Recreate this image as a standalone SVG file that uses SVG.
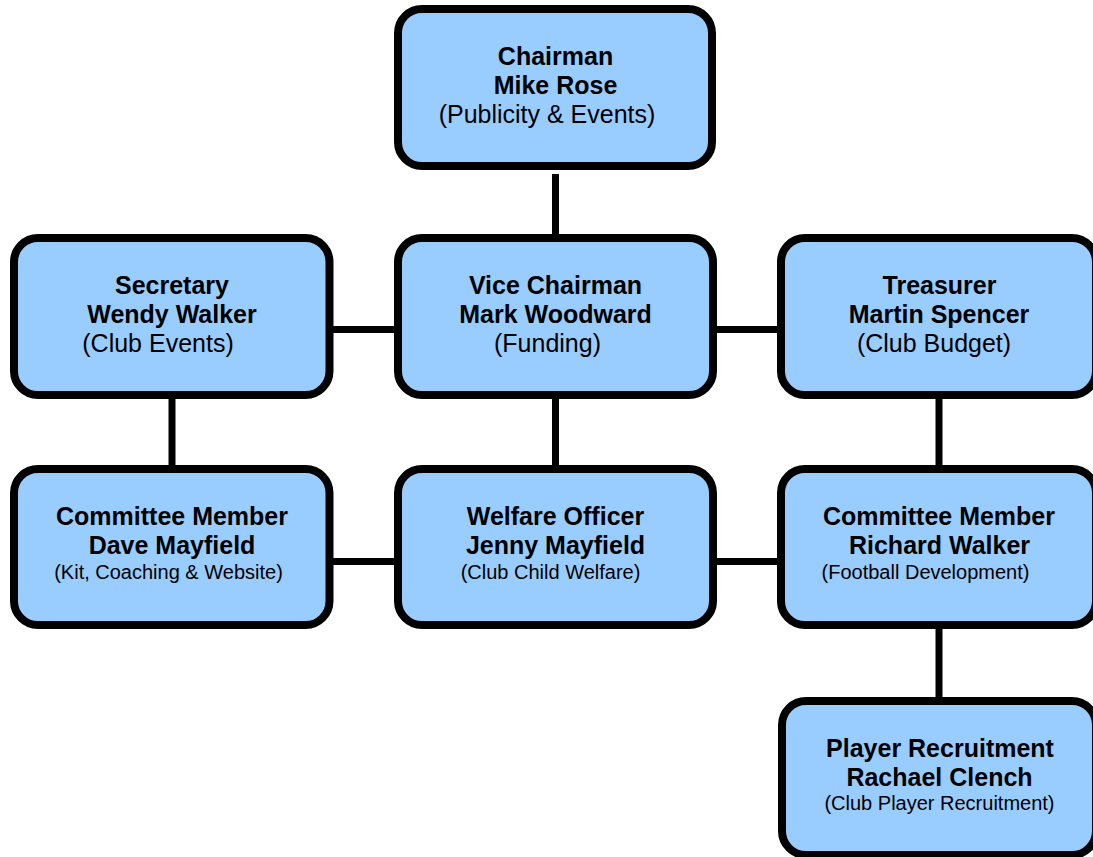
<svg xmlns="http://www.w3.org/2000/svg" width="1093" height="857" viewBox="0 0 1093 857">
<style>
.box{fill:#99CCFF;stroke:#000;stroke-width:8}
.con{stroke:#000;stroke-width:7;fill:none}
text{font-family:"Liberation Sans",Arial,sans-serif;fill:#000;text-anchor:middle}
.b{font-size:25px;font-weight:bold}
.r{font-size:25px}
.s{font-size:20px}
</style>
<rect width="1093" height="857" fill="#fff"/>
<g id="connectors">
<line class="con" x1="555.5" y1="174" x2="555.5" y2="238"/>
<line class="con" x1="172" y1="395" x2="172" y2="469"/>
<line class="con" x1="555.5" y1="395" x2="555.5" y2="469"/>
<line class="con" x1="939" y1="395" x2="939" y2="469"/>
<line class="con" x1="939" y1="625" x2="939" y2="701"/>
<line class="con" x1="329.5" y1="329.5" x2="398" y2="329.5"/>
<line class="con" x1="713" y1="329.5" x2="781" y2="329.5"/>
<line class="con" x1="329.5" y1="561.5" x2="398" y2="561.5"/>
<line class="con" x1="713" y1="561.5" x2="781" y2="561.5"/>
</g>
<g id="chairman">
<rect class="box" x="398" y="9" width="314" height="157" rx="24"/>
<text class="b" x="555.5" y="65">Chairman</text>
<text class="b" x="555.5" y="94">Mike Rose</text>
<text class="r" x="547" y="123">(Publicity &amp; Events)</text>
</g>
<g id="secretary">
<rect class="box" x="14" y="238" width="315.5" height="157" rx="24"/>
<text class="b" x="172" y="294">Secretary</text>
<text class="b" x="172" y="323">Wendy Walker</text>
<text class="r" x="158" y="352">(Club Events)</text>
</g>
<g id="vice-chairman">
<rect class="box" x="398" y="238" width="315" height="157" rx="24"/>
<text class="b" x="555.5" y="294">Vice Chairman</text>
<text class="b" x="555.5" y="323">Mark Woodward</text>
<text class="r" x="547.5" y="352">(Funding)</text>
</g>
<g id="treasurer">
<rect class="box" x="781" y="238" width="315" height="157" rx="24"/>
<text class="b" x="939.5" y="294">Treasurer</text>
<text class="b" x="939" y="323">Martin Spencer</text>
<text class="r" x="934" y="352">(Club Budget)</text>
</g>
<g id="committee-dave">
<rect class="box" x="14" y="469" width="315.5" height="156" rx="24"/>
<text class="b" x="172" y="525">Committee Member</text>
<text class="b" x="172" y="554">Dave Mayfield</text>
<text class="s" x="168.5" y="579">(Kit, Coaching &amp; Website)</text>
</g>
<g id="welfare">
<rect class="box" x="398" y="469" width="315" height="156" rx="24"/>
<text class="b" x="555.5" y="525">Welfare Officer</text>
<text class="b" x="555.5" y="554">Jenny Mayfield</text>
<text class="s" x="550.5" y="579">(Club Child Welfare)</text>
</g>
<g id="committee-richard">
<rect class="box" x="781" y="469" width="315" height="156" rx="24"/>
<text class="b" x="939" y="525">Committee Member</text>
<text class="b" x="939.5" y="554">Richard Walker</text>
<text class="s" x="925.5" y="579">(Football Development)</text>
</g>
<g id="player-recruitment">
<rect class="box" x="782" y="701" width="314" height="154" rx="24"/>
<text class="b" x="940" y="757">Player Recruitment</text>
<text class="b" x="939.5" y="786">Rachael Clench</text>
<text class="s" x="939.5" y="810">(Club Player Recruitment)</text>
</g>
</svg>
